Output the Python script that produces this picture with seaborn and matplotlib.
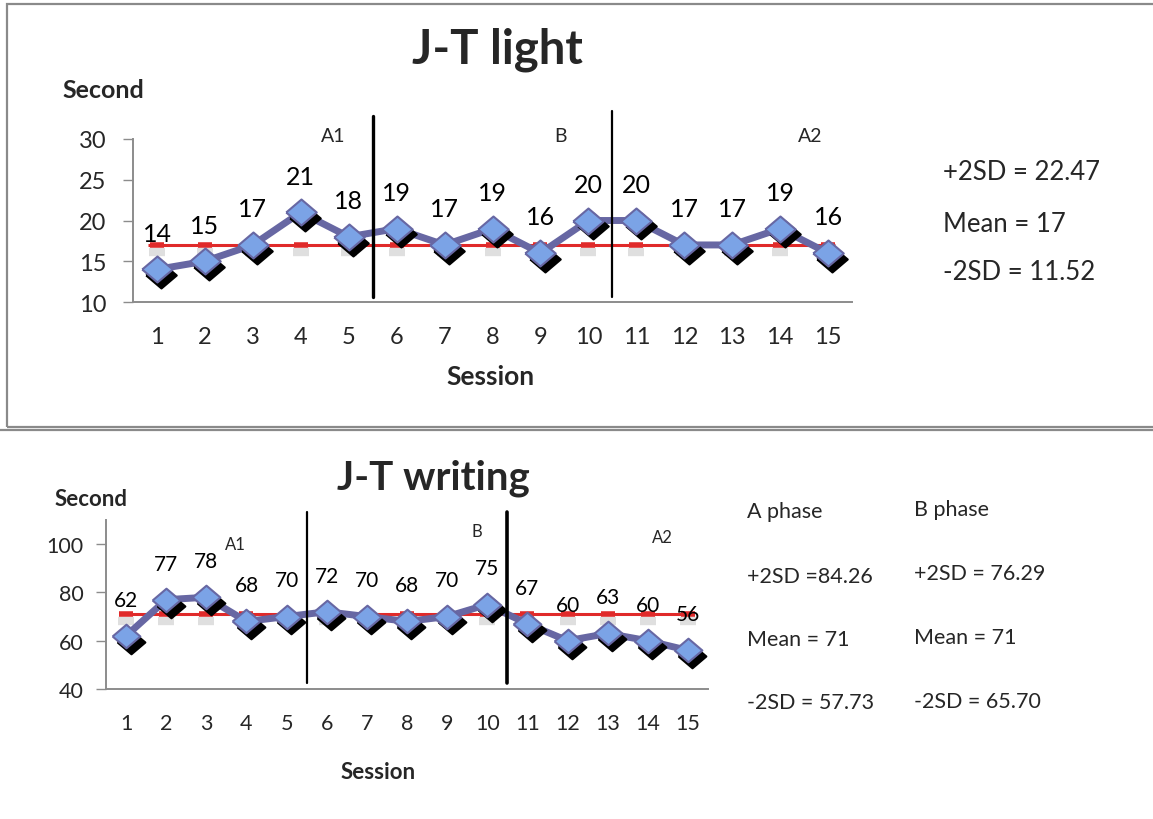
import matplotlib
matplotlib.use("Agg")
import matplotlib.pyplot as plt
import matplotlib.transforms as mtransforms
from matplotlib.patches import Rectangle
from matplotlib.lines import Line2D
import seaborn as sns
import pandas as pd

# ---------------- data ----------------
sessions = list(range(1, 16))
light_values = [14, 15, 17, 21, 18, 19, 17, 19, 16, 20, 20, 17, 17, 19, 16]
light_mean = 17
light_stats = ["+2SD = 22.47", "Mean = 17", "-2SD = 11.52"]

writing_values = [62, 77, 78, 68, 70, 72, 70, 68, 70, 75, 67, 60, 63, 60, 56]
writing_mean = 71
writing_stats_a = ["A phase", "+2SD =84.26", "Mean = 71", "-2SD = 57.73"]
writing_stats_b = ["B phase", "+2SD = 76.29", "Mean = 71", "-2SD = 65.70"]

phase_bounds = [5.5, 10.5]
phase_names = ["A1", "B", "A2"]
light_phase_pos = [(4.68, 30.4), (9.42, 30.4), (14.63, 30.4)]
writing_phase_pos = [(3.72, 100.0), (9.75, 105.3), (14.37, 102.8)]

light_yticks = [10, 15, 20, 25, 30]
writing_yticks = [40, 60, 80, 100]

# ---------------- style ----------------
sns.set_style("white")
plt.rcParams["font.family"] = ["Lato", "DejaVu Sans"]

LINE_C = "#6767A3"
FACE_C = "#7BA3E6"
RED_C = "#E02A2A"
AX_C = "#8C8C8C"
DIAMOND = [(-1, 0), (0, 0.85), (1, 0), (0, -0.85), (-1, 0)]

W, H = 1153, 820
fig = plt.figure(figsize=(W / 100, H / 100), dpi=100)


def fx(px):
    return px / W


def fy(py):
    return 1 - py / H


def draw_panel(ax, values, mean, yticks, ylim, tick_fs, label_fs, vlines, phase_pos,
               phase_fs, ylabel_pad, ms):
    df = pd.DataFrame({"Session": sessions, "Second": values})
    # shadow of markers
    shadow_tr = mtransforms.offset_copy(ax.transData, fig=fig, x=3.2, y=-4.2, units="points")
    ax.plot(df["Session"], df["Second"], linestyle="none", marker=DIAMOND, ms=ms,
            color="black", mec="black", mew=1.5, transform=shadow_tr, zorder=3)
    # mean line with dash markers and soft shadows
    ax.hlines(mean, sessions[0] - 0.18, sessions[-1] + 0.15, color=RED_C, lw=2.2, zorder=2)
    shadow_tr2 = mtransforms.offset_copy(ax.transData, fig=fig, x=0, y=-5, units="points")
    ax.plot(sessions, [mean] * len(sessions), linestyle="none", marker="_", ms=11, mew=6,
            color="#B0B0B0", alpha=0.4, transform=shadow_tr2, zorder=1.5)
    ax.plot(sessions, [mean] * len(sessions), linestyle="none", marker="_", ms=10, mew=4,
            color=RED_C, zorder=2.1)
    # main series line
    sns.lineplot(data=df, x="Session", y="Second", ax=ax, color=LINE_C, lw=5, zorder=2.5)
    # markers on top of shadows
    ax.plot(df["Session"], df["Second"], linestyle="none", marker=DIAMOND, ms=ms,
            mfc=FACE_C, mec=LINE_C, mew=1.5, zorder=4)
    # data labels
    for x, y in zip(sessions, values):
        ax.annotate(str(y), (x, y), xytext=(0, 26), textcoords="offset points",
                    ha="center", va="center", fontsize=label_fs, color="black", zorder=6)
    # phase lines
    for xb, (lo, hi, lw) in zip(phase_bounds, vlines):
        ax.axvline(xb, ymin=lo, ymax=hi, color="black", lw=lw, clip_on=False, zorder=5)
    for name, (px, py) in zip(phase_names, phase_pos):
        ax.text(px, py, name, ha="center", va="center", fontsize=phase_fs, clip_on=False)

    ax.set_xlim(0.5, 15.5)
    ax.set_ylim(*ylim)
    ax.set_xticks(sessions)
    ax.set_xticklabels([str(s) for s in sessions])
    ax.set_yticks(yticks)
    ax.set_xlabel("")
    ax.set_ylabel("")
    for s in ["top", "right"]:
        ax.spines[s].set_visible(False)
    for s in ["left", "bottom"]:
        ax.spines[s].set_color(AX_C)
        ax.spines[s].set_linewidth(1.4)
    ax.tick_params(axis="x", length=0, pad=17, labelsize=tick_fs)
    ax.tick_params(axis="y", length=7, width=1, color=AX_C, pad=ylabel_pad,
                   labelsize=tick_fs, direction="out", left=True)
    ax.set_facecolor("none")


# ---------------- top panel ----------------
ax1 = fig.add_axes([fx(133), fy(303), fx(852 - 133), (303 - 140) / H])
draw_panel(ax1, light_values, light_mean, light_yticks, (10, 30), 17, 18,
           [(0.03, 1.14, 2.4), (0.03, 1.17, 1.6)], light_phase_pos, 14, 12, 22)

fig.text(fx(497), fy(50), "J-T light", ha="center", va="center", fontsize=34,
         fontweight="bold")
fig.text(fx(62), fy(91), "Second", ha="left", va="center", fontsize=18, fontweight="bold")
fig.text(fx(490), fy(377), "Session", ha="center", va="center", fontsize=19,
         fontweight="bold")
for txt, py in zip(light_stats, [172, 225, 273]):
    fig.text(fx(943), fy(py), txt, ha="left", va="center", fontsize=18.5)

# ---------------- bottom panel ----------------
ax2 = fig.add_axes([fx(106), fy(690), fx(708 - 106), (690 - 521) / H])
draw_panel(ax2, writing_values, writing_mean, writing_yticks, (40, 110), 15.5, 15,
           [(0.035, 1.047, 1.6), (0.035, 1.047, 2.6)], writing_phase_pos, 12, 9, 20)

fig.text(fx(433), fy(478), "J-T writing", ha="center", va="center", fontsize=29,
         fontweight="bold")
fig.text(fx(55), fy(500), "Second", ha="left", va="center", fontsize=16, fontweight="bold")
fig.text(fx(378), fy(773), "Session", ha="center", va="center", fontsize=16,
         fontweight="bold")
for txt, py in zip(writing_stats_a, [512, 577, 640, 703]):
    fig.text(fx(747), fy(py), txt, ha="left", va="center", fontsize=15.5)
for txt, py in zip(writing_stats_b, [510, 574, 638, 702]):
    fig.text(fx(914), fy(py), txt, ha="left", va="center", fontsize=15.5)

# ---------------- frames ----------------
fig.patches.append(Rectangle((fx(7), fy(428)), fx(1300 - 7), (428 - 5) / H,
                             transform=fig.transFigure, fill=False, ec="#8A8A8A", lw=1.6))
fig.lines.append(Line2D([0, 1], [fy(431), fy(431)], transform=fig.transFigure,
                        color="#8A8A8A", lw=1.6))

fig.savefig("out.png", dpi=100, facecolor="white")
